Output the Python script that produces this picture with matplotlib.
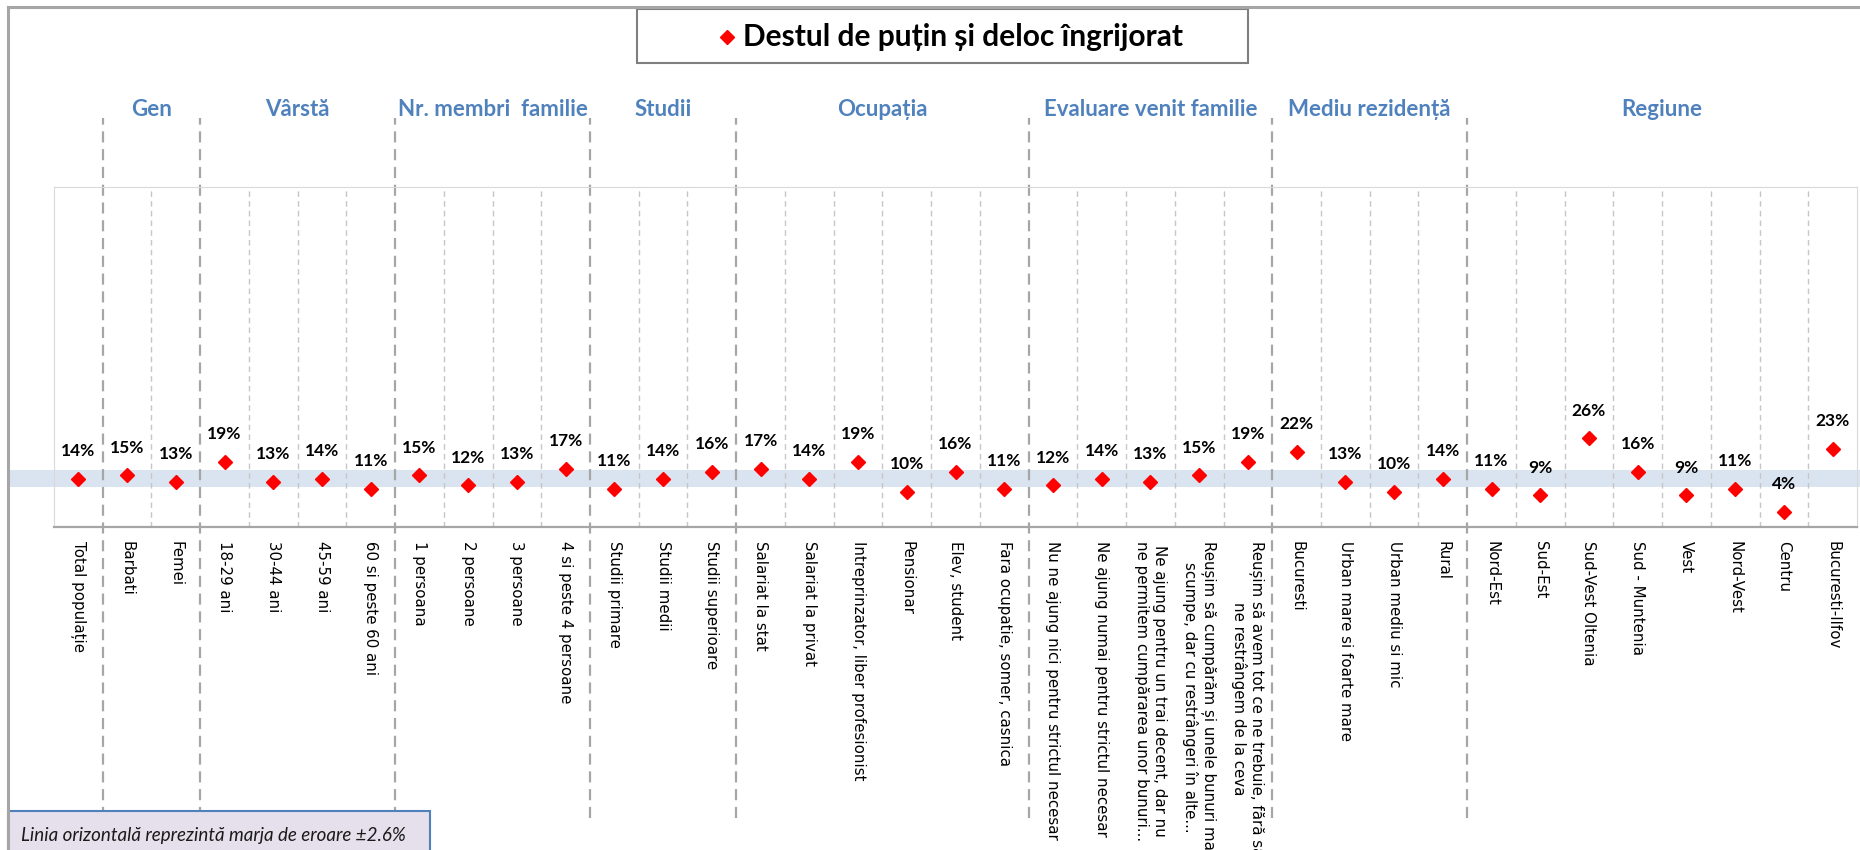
import matplotlib.pyplot as plt
from matplotlib.patches import Rectangle
from matplotlib.lines import Line2D

plt.rcParams['font.family'] = ['Lato', 'DejaVu Sans']

categorii = [
    'Total populație', 'Barbati', 'Femei',
    '18-29 ani', '30-44 ani', '45-59 ani', '60 si peste 60 ani',
    '1 persoana', '2 persoane', '3 persoane', '4 si peste 4 persoane',
    'Studii primare', 'Studii medii', 'Studii superioare',
    'Salariat la stat', 'Salariat la privat', 'Intreprinzator, liber profesionist',
    'Pensionar', 'Elev, student', 'Fara ocupatie, somer, casnica',
    'Nu ne ajung nici pentru strictul necesar',
    'Ne ajung numai pentru strictul necesar',
    'Ne ajung pentru un trai decent, dar nu\nne permitem cumpărarea unor bunuri...',
    'Reușim să cumpărăm și unele bunuri mai\nscumpe, dar cu restrângeri în alte...',
    'Reușim să avem tot ce ne trebuie, fără să\nne restrângem de la ceva',
    'Bucuresti', 'Urban mare si foarte mare', 'Urban mediu si mic', 'Rural',
    'Nord-Est', 'Sud-Est', 'Sud-Vest Oltenia', 'Sud - Muntenia', 'Vest',
    'Nord-Vest', 'Centru', 'Bucuresti-Ilfov',
]
valori = [14, 15, 13, 19, 13, 14, 11, 15, 12, 13, 17, 11, 14, 16,
          17, 14, 19, 10, 16, 11, 12, 14, 13, 15, 19,
          22, 13, 10, 14, 11, 9, 26, 16, 9, 11, 4, 23]
grupuri = ['Gen', 'Vârstă', 'Nr. membri  familie', 'Studii', 'Ocupația',
           'Evaluare venit familie', 'Mediu rezidență', 'Regiune']
marime_grup = [2, 4, 4, 3, 6, 5, 4, 8]
marja = 2.6
titlu = 'Destul de puțin și deloc îngrijorat'
nota = 'Linia orizontală reprezintă marja de eroare ±2.6%'

W, H = 1860, 850
fig = plt.figure(figsize=(W / 100, H / 100), dpi=100)


def fx(px):
    return px / W


def fy(py):
    return 1 - py / H


top, bottom, left, right = 187, 527, 54, 1857
ax = fig.add_axes([fx(left), fy(bottom), (right - left) / W, (bottom - top) / H])
n = len(categorii)
x = list(range(n))
ax.set_xlim(-0.5, n - 0.5)
ax.set_ylim(-0.4, 101)

def ax_y(py):
    return (bottom - py) / (bottom - top)

# banda marjei de eroare in jurul totalului
ax.axhspan(valori[0] - marja, valori[0] + marja,
           xmin=(8 - left) / (right - left), xmax=1.01,
           color='#dae3f0', lw=0, clip_on=False, zorder=0)

# limitele grupurilor
limite = []
s = 1
for m in marime_grup:
    limite.append(s)
    s += m

minore = [i + 0.5 for i in range(n - 1) if i + 1 not in limite]
ax.vlines(minore, 0, 1, transform=ax.get_xaxis_transform(),
          colors='#c6c6c6', linestyles=(0, (4, 3)), lw=1, zorder=1)
ax.vlines([b - 0.5 for b in limite], ax_y(818), ax_y(118),
          transform=ax.get_xaxis_transform(), colors='#a6a6a6',
          linestyles=(0, (5, 3)), lw=1.6, clip_on=False, zorder=1)

for g, b, m in zip(grupuri, limite, marime_grup):
    ax.text(b + (m - 1) / 2, ax_y(109), g, transform=ax.get_xaxis_transform(),
            ha='center', va='center', fontsize=16, fontweight='bold',
            color='#4f81bd')

ax.plot(x, valori, ls='none', marker='D', color='red', ms=7.5, zorder=5)
for i, v in enumerate(valori):
    ax.annotate(f'{v}%', (i, v), xytext=(0, 20), textcoords='offset points',
                ha='center', va='center', fontsize=12.5, fontweight='bold')

ax.set_xticks(x, categorii, rotation=270, fontsize=10.8, family='DejaVu Sans',
              multialignment='center')
ax.tick_params(axis='x', length=0, pad=10)
ax.set_yticks([])
for k in ['left', 'top', 'right']:
    ax.spines[k].set_color('#d9d9d9')
ax.spines['bottom'].set_color('#a6a6a6')
ax.spines['bottom'].set_linewidth(1.6)

# cadrul exterior
fig.add_artist(Line2D([fx(8), fx(8)], [fy(7), 0], color='#a6a6a6', lw=2.2))
fig.add_artist(Line2D([fx(8), 1], [fy(7), fy(7)], color='#a6a6a6', lw=2.2))

# legenda / titlu
fig.add_artist(Rectangle((fx(637), fy(63)), (1248 - 637) / W, (63 - 9) / H,
                         facecolor='white', edgecolor='#7f7f7f', lw=1.5,
                         transform=fig.transFigure))
fig.add_artist(Line2D([fx(727)], [fy(37)], marker='D', color='red', ms=7,
                      ls='none'))
fig.text(fx(743), fy(37), titlu, ha='left', va='center', fontsize=21.5,
         fontweight='bold')

# nota de subsol
fig.add_artist(Rectangle((fx(8), fy(860)), (430 - 8) / W, (860 - 811) / H,
                         facecolor='#e5e0ec', edgecolor='#4f81bd', lw=1.5,
                         transform=fig.transFigure))
fig.text(fx(21), fy(835), nota, ha='left', va='center', fontsize=13.5,
         style='italic', color='#1a1a1a')

fig.savefig('out.png', dpi=100)
